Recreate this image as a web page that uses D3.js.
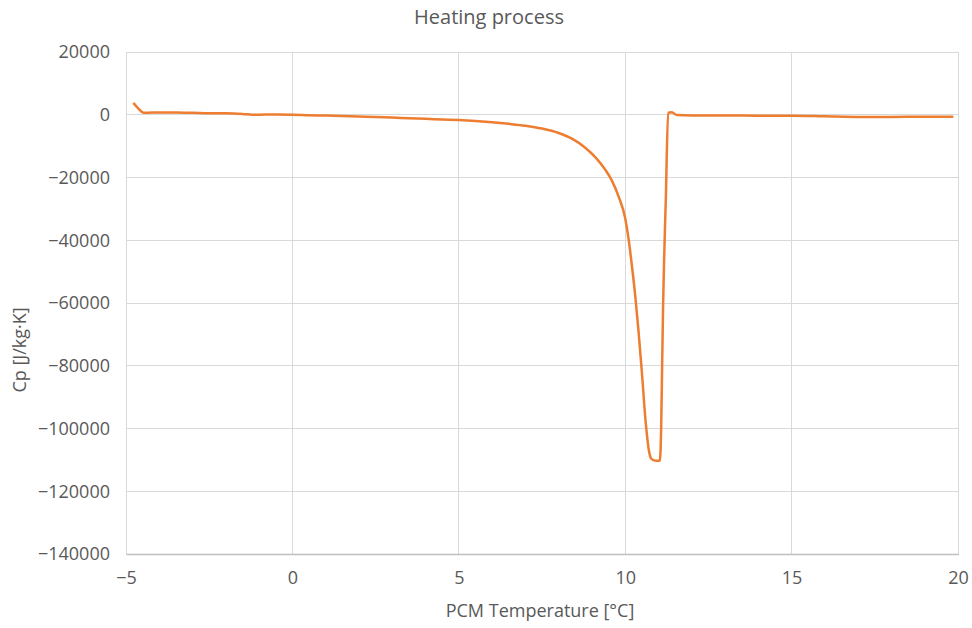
<!DOCTYPE html>
<html><head><meta charset="utf-8">
<script src="https://cdn.jsdelivr.net/npm/d3@7"></script>
<style>body{margin:0;background:#fff}svg{display:block}text{font-family:"Open Sans",sans-serif;fill:#595959}</style>
</head><body><svg id="c" width="972" height="628"></svg>
<script>
const temps = [-4.78,-4.62,-4.48,-4.2,-3.5,-3,-2.5,-2,-1.5,-1.2,-0.8,0,0.5,1,1.5,2,2.5,3,3.5,4,4.5,5,5.5,6,6.5,7,7.5,8,8.4,8.8,9.1,9.4,9.6,9.8,10.0,10.1,10.2,10.3,10.4,10.5,10.62,10.72,10.78,10.85,10.95,11.04,11.08,11.11,11.14,11.17,11.22,11.29,11.4,11.55,12,13,14,15,16,17,18,19,19.86];
const cp = [3800,1900,650,700,700,600,450,450,250,0,50,0,-150,-250,-400,-550,-700,-900,-1100,-1300,-1500,-1700,-2000,-2400,-2900,-3500,-4400,-5800,-7600,-10500,-13500,-17500,-21000,-26000,-33000,-39500,-48000,-57500,-69000,-82000,-98500,-107500,-109600,-110100,-110300,-110300,-100000,-80000,-60000,-46000,-27000,650,800,-80,-200,-200,-300,-300,-500,-700,-700,-600,-650];
const xTicks = [-5,0,5,10,15,20];
const yTicks = [20000,0,-20000,-40000,-60000,-80000,-100000,-120000,-140000];
const title = "Heating process", xTitle = "PCM Temperature [°C]", yTitle = "Cp [J/kg·K]";

const svg = d3.select("#c");
const L=126,R=958,T=52,B=554;
const x = d3.scaleLinear().domain([-5,20]).range([L,R]);
const y = d3.scaleLinear().domain([-140000,20000]).range([B,T]);

svg.append("g").selectAll("line").data(xTicks).join("line")
  .attr("x1",d=>x(d)).attr("x2",d=>x(d)).attr("y1",T).attr("y2",B)
  .attr("stroke","#d9d9d9").attr("stroke-width",1).attr("shape-rendering","crispEdges");
svg.append("g").selectAll("line").data(yTicks).join("line")
  .attr("x1",L).attr("x2",R).attr("y1",d=>y(d)).attr("y2",d=>y(d))
  .attr("stroke","#d9d9d9").attr("stroke-width",1).attr("shape-rendering","crispEdges");
svg.append("rect").attr("x",L).attr("y",T).attr("width",R-L).attr("height",B-T)
  .attr("fill","none").attr("stroke","#d9d9d9").attr("shape-rendering","crispEdges");
const xa = svg.append("g").attr("transform",`translate(0,${B})`)
  .call(d3.axisBottom(x).tickValues(xTicks).tickSize(0).tickPadding(17).tickFormat(d3.format("d")));
xa.select(".domain").attr("stroke","#bfbfbf").attr("stroke-width",1.5);
const ya = svg.append("g").attr("transform",`translate(${L},0)`)
  .call(d3.axisLeft(y).tickValues(yTicks).tickSize(0).tickPadding(16).tickFormat(d3.format("d")));
ya.select(".domain").attr("stroke","#d9d9d9");
svg.selectAll(".tick text").attr("font-size",18).attr("fill","#595959").attr("font-family","Open Sans");

const data = temps.map((t,i)=>[t,cp[i]]);
svg.append("path").datum(data)
  .attr("d", d3.line().x(d=>x(d[0])).y(d=>y(d[1])).curve(d3.curveMonotoneX))
  .attr("fill","none").attr("stroke","#ED7D31").attr("stroke-width",2.5).attr("stroke-linejoin","round");

svg.append("text").attr("x",489).attr("y",24).attr("text-anchor","middle").attr("font-size",20).text(title);
svg.append("text").attr("x",540).attr("y",617).attr("text-anchor","middle").attr("font-size",18).text(xTitle);
svg.append("text").attr("transform","translate(26,350) rotate(-90)").attr("text-anchor","middle").attr("font-size",18).text(yTitle);
</script></body></html>
